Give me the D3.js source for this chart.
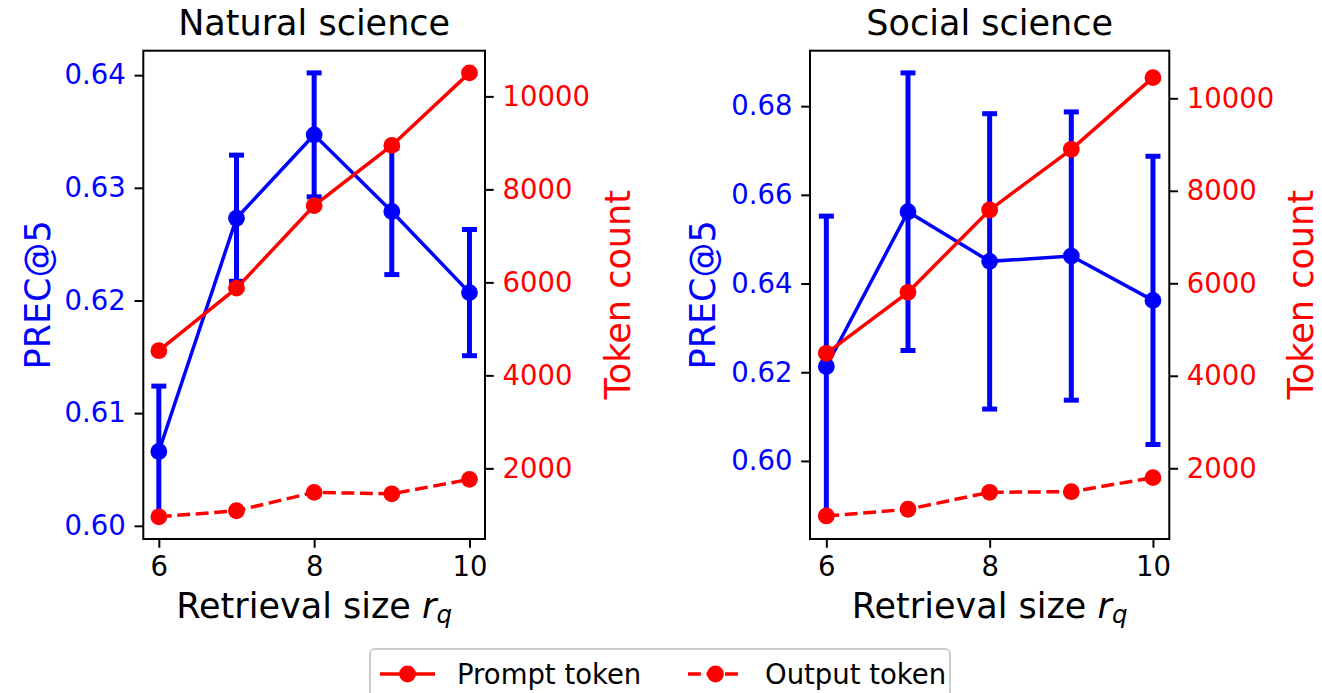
<!DOCTYPE html>
<html>
<head>
<meta charset="utf-8">
<script src="https://cdn.jsdelivr.net/npm/d3@7"></script>
<style>
  body { margin: 0; background: #fff; }
  text { font-family: "DejaVu Sans", sans-serif; }
</style>
</head>
<body>
<div id="chart"></div>
<script>
// data
const retrievalSizes = [6, 7, 8, 9, 10];
const xTicks = [6, 8, 10];
const tokenTicks = [2000, 4000, 6000, 8000, 10000];

const natPrec = [0.6066, 0.6273, 0.6347, 0.6279, 0.6207];
const natPrecErr = [0.0058, 0.0056, 0.0055, 0.0056, 0.0056];
const natPrompt = [4530, 5875, 7650, 8945, 10505];
const natOutput = [958, 1088, 1483, 1453, 1763];
const natPrecTicks = [0.60, 0.61, 0.62, 0.63, 0.64];

const socPrec = [0.6213, 0.6562, 0.6450, 0.6462, 0.6362];
const socPrecErr = [0.0339, 0.0313, 0.0333, 0.0325, 0.0325];
const socPrompt = [4486, 5805, 7585, 8897, 10446];
const socOutput = [969, 1114, 1481, 1494, 1797];
const socPrecTicks = [0.60, 0.62, 0.64, 0.66, 0.68];

const legendLabels = ["Prompt token", "Output token"];

const BLUE = "#0000ff", RED = "#ff0000";
const W = 1322, H = 693;
const tickLen = 8.75, tickPad = 8.75;
const lineW = 3.5, errW = 5, capHalf = 7.5, dotR = 8.4;
const dash = "12.9,5.6";

const svg = d3.select("#chart").append("svg")
    .attr("width", W).attr("height", H);

function padded(lo, hi) {
    const p = (hi - lo) * 0.05;
    return [lo - p, hi + p];
}

function drawPanel(cfg) {
    const { left, right, top, bottom } = cfg.box;
    const g = svg.append("g");

    const x = d3.scaleLinear()
        .domain(padded(d3.min(retrievalSizes), d3.max(retrievalSizes)))
        .range([left, right]);
    const yL = d3.scaleLinear()
        .domain(padded(d3.min(cfg.prec, (d, i) => d - cfg.err[i]),
                       d3.max(cfg.prec, (d, i) => d + cfg.err[i])))
        .range([bottom, top]);
    const allTok = cfg.prompt.concat(cfg.output);
    const yR = d3.scaleLinear()
        .domain(cfg.tokenDomain || padded(d3.min(allTok), d3.max(allTok)))
        .range([bottom, top]);

    // axes
    const styleAxis = (sel, color) => {
        sel.select(".domain").remove();
        sel.selectAll(".tick line").attr("stroke", "#000").attr("stroke-width", 2);
        sel.selectAll(".tick text").attr("fill", color)
            .style("font-size", "27.5px").style("font-family", "DejaVu Sans");
    };
    g.append("g").attr("transform", `translate(0,${bottom})`)
        .call(d3.axisBottom(x).tickValues(xTicks).tickFormat(d3.format("d"))
            .tickSize(tickLen).tickPadding(tickPad))
        .call(s => styleAxis(s, "#000"));
    g.append("g").attr("transform", `translate(${left},0)`)
        .call(d3.axisLeft(yL).tickValues(cfg.precTicks).tickFormat(d3.format(".2f"))
            .tickSize(tickLen).tickPadding(tickPad))
        .call(s => styleAxis(s, BLUE));
    g.append("g").attr("transform", `translate(${right},0)`)
        .call(d3.axisRight(yR).tickValues(tokenTicks).tickFormat(d3.format("d"))
            .tickSize(tickLen).tickPadding(tickPad))
        .call(s => styleAxis(s, RED));

    // PREC@5 with error bars
    const idx = d3.range(retrievalSizes.length);
    const eb = g.append("g");
    eb.selectAll(null).data(idx).join("line")
        .attr("x1", i => x(retrievalSizes[i])).attr("x2", i => x(retrievalSizes[i]))
        .attr("y1", i => yL(cfg.prec[i] - cfg.err[i]))
        .attr("y2", i => yL(cfg.prec[i] + cfg.err[i]))
        .attr("stroke", BLUE).attr("stroke-width", errW);
    [-1, 1].forEach(sgn => {
        eb.selectAll(null).data(idx).join("line")
            .attr("x1", i => x(retrievalSizes[i]) - capHalf)
            .attr("x2", i => x(retrievalSizes[i]) + capHalf)
            .attr("y1", i => yL(cfg.prec[i] + sgn * cfg.err[i]))
            .attr("y2", i => yL(cfg.prec[i] + sgn * cfg.err[i]))
            .attr("stroke", BLUE).attr("stroke-width", errW);
    });
    g.append("path")
        .attr("d", d3.line().x(i => x(retrievalSizes[i])).y(i => yL(cfg.prec[i]))(idx))
        .attr("fill", "none").attr("stroke", BLUE).attr("stroke-width", lineW);
    g.selectAll(null).data(idx).join("circle")
        .attr("cx", i => x(retrievalSizes[i])).attr("cy", i => yL(cfg.prec[i]))
        .attr("r", dotR).attr("fill", BLUE);

    // token counts on twin axis
    [[cfg.prompt, null], [cfg.output, dash]].forEach(([vals, da]) => {
        g.append("path")
            .attr("d", d3.line().x(i => x(retrievalSizes[i])).y(i => yR(vals[i]))(idx))
            .attr("fill", "none").attr("stroke", RED).attr("stroke-width", lineW)
            .attr("stroke-dasharray", da);
        g.selectAll(null).data(idx).join("circle")
            .attr("cx", i => x(retrievalSizes[i])).attr("cy", i => yR(vals[i]))
            .attr("r", dotR).attr("fill", RED);
    });

    // frame
    g.append("rect")
        .attr("x", left).attr("y", top)
        .attr("width", right - left).attr("height", bottom - top)
        .attr("fill", "none").attr("stroke", "#000").attr("stroke-width", 2);

    const cx = (left + right) / 2, cy = (top + bottom) / 2;
    g.append("text").attr("x", cx).attr("y", 35)
        .attr("text-anchor", "middle").style("font-size", "35px")
        .text(cfg.title);

    const xl = g.append("text").attr("x", cx).attr("y", 618)
        .attr("text-anchor", "middle").style("font-size", "35px");
    xl.append("tspan").text("Retrieval size ");
    xl.append("tspan").style("font-style", "italic").text("r");
    xl.append("tspan").style("font-style", "italic").style("font-size", "24.5px")
        .attr("dy", 5).text("q");

    g.append("text")
        .attr("transform", `translate(${cfg.leftLabelX},${cy}) rotate(-90)`)
        .attr("text-anchor", "middle").attr("fill", BLUE)
        .style("font-size", "35px").text("PREC@5");
    g.append("text")
        .attr("transform", `translate(${cfg.rightLabelX},${cy}) rotate(-90)`)
        .attr("text-anchor", "middle").attr("fill", RED)
        .style("font-size", "35px").text("Token count");
}

drawPanel({
    title: "Natural science",
    box: { left: 143.3, right: 485, top: 50.7, bottom: 539 },
    prec: natPrec, err: natPrecErr, prompt: natPrompt, output: natOutput,
    precTicks: natPrecTicks, leftLabelX: 50, rightLabelX: 630
});
drawPanel({
    title: "Social science",
    box: { left: 810, right: 1169.3, top: 50.7, bottom: 539 },
    prec: socPrec, err: socPrecErr, prompt: socPrompt, output: socOutput,
    precTicks: socPrecTicks, leftLabelX: 715, rightLabelX: 1313,
    tokenDomain: [471, 11029]
});

// legend
const legend = svg.append("g");
legend.append("rect")
    .attr("x", 370).attr("y", 649).attr("width", 580).attr("height", 62)
    .attr("rx", 5).attr("fill", "#fff").attr("fill-opacity", 0.8)
    .attr("stroke", "#cccccc").attr("stroke-width", 2);
const legendHandles = [{ dash: null, x: 380 }, { dash: dash, x: 688 }];
legendLabels.forEach((label, k) => {
    const h = legendHandles[k];
    legend.append("line")
        .attr("x1", h.x).attr("x2", h.x + 55).attr("y1", 674).attr("y2", 674)
        .attr("stroke", RED).attr("stroke-width", lineW).attr("stroke-dasharray", h.dash);
    legend.append("circle").attr("cx", h.x + 27.5).attr("cy", 674).attr("r", dotR)
        .attr("fill", RED);
    legend.append("text").attr("x", h.x + 77).attr("y", 684)
        .style("font-size", "27.5px").text(label);
});
</script>
</body>
</html>
